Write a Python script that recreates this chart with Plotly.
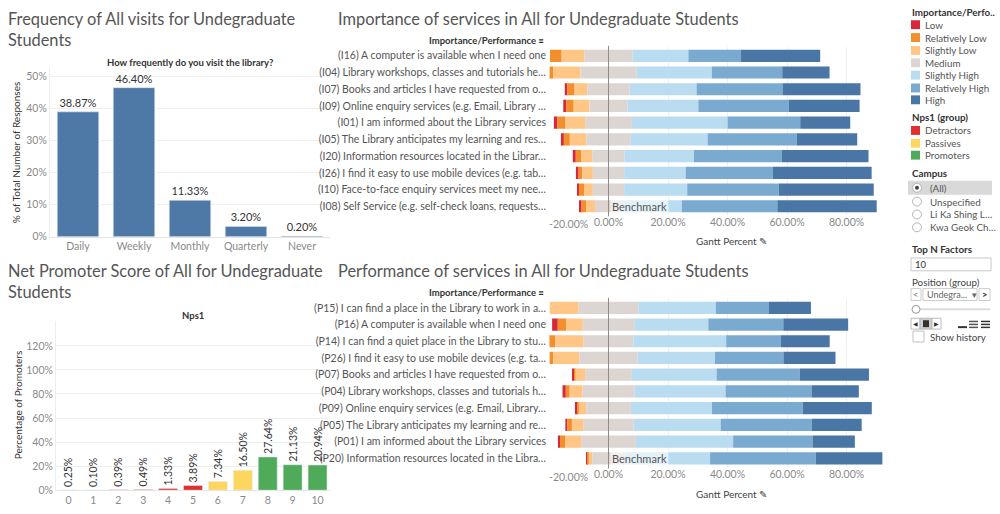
import plotly.graph_objects as go

W, H = 1000, 514
def px(x): return x / W
def py(y): return 1 - y / H

FONT = "Lato"
TITLE_C = "#555555"
TEXT_C = "#333333"
TICK_C = "#8a8a8a"
GRID_C = "#efefef"

# ---------------- data ----------------
freq_cats = ["Daily", "Weekly", "Monthly", "Quarterly", "Never"]
freq_vals = [38.87, 46.40, 11.33, 3.20, 0.20]

nps_scores = ["0", "1", "2", "3", "4", "5", "6", "7", "8", "9", "10"]
nps_vals = [0.25, 0.10, 0.39, 0.49, 1.33, 3.89, 7.34, 16.50, 27.64, 21.13, 20.94]
nps_groups = ["Detractors"] * 6 + ["Passives"] * 2 + ["Promoters"] * 3

levels = ["Low", "Relatively Low", "Slightly Low", "Medium",
          "Slightly High", "Relatively High", "High"]
level_colors = ["#d62839", "#f28e2b", "#ffc685", "#dcd5d2",
                "#b9dcf0", "#7aaad0", "#4a76a6"]
nps_group_names = ["Detractors", "Passives", "Promoters"]
nps_group_colors = ["#e0302f", "#fdd660", "#4fab5a"]

imp_labels = [
    "(I16) A computer is available when I need one",
    "(I04) Library workshops, classes and tutorials he…",
    "(I07) Books and articles I have requested from o…",
    "(I09) Online enquiry services (e.g. Email, Library …",
    "(I01) I am informed about the Library services",
    "(I05) The Library anticipates my learning and res…",
    "(I20) Information resources located in the Librar…",
    "(I26) I find it easy to use mobile devices (e.g. tab…",
    "(I10) Face-to-face enquiry services meet my nee…",
    "(I08) Self Service (e.g. self-check loans, requests…",
]
imp_low = [0.0, 0.0, 0.9, 1.0, 1.2, 1.0, 1.0, 0.9, 0.5, 0.6]
imp_rel_low = [3.9, 1.3, 2.4, 2.5, 2.7, 2.0, 1.9, 1.2, 1.9, 1.5]
imp_sl_low = [7.6, 9.1, 4.3, 5.3, 6.6, 5.5, 3.7, 3.6, 2.8, 3.0]
imp_medium = [16.3, 18.8, 14.2, 12.8, 15.7, 15.0, 10.8, 10.5, 10.5, 9.1]
imp_sl_high = [18.7, 25.3, 22.5, 23.8, 32.2, 25.8, 23.3, 20.7, 21.2, 20.1]
imp_rel_high = [17.7, 23.7, 28.9, 30.4, 24.4, 30.0, 29.6, 29.2, 30.8, 32.1]
imp_high = [26.6, 15.9, 26.2, 23.8, 16.8, 20.3, 29.1, 33.3, 31.9, 33.4]

perf_labels = [
    "(P15) I can find a place in the Library to work in a…",
    "(P16) A computer is available when I need one",
    "(P14) I can find a quiet place in the Library to stu…",
    "(P26) I find it easy to use mobile devices (e.g. ta…",
    "(P07) Books and articles I have requested from o…",
    "(P04) Library workshops, classes and tutorials h…",
    "(P09) Online enquiry services (e.g. Email, Library…",
    "(P05) The Library anticipates my learning and re…",
    "(P01) I am informed about the Library services",
    "(P20) Information resources located in the Libra…",
]
perf_low = [0.0, 1.9, 0.0, 0.0, 0.6, 1.1, 0.6, 0.7, 0.7, 0.6]
perf_rel_low = [0.0, 2.8, 1.9, 1.2, 0.4, 1.3, 0.4, 1.5, 1.7, 0.3]
perf_sl_low = [9.7, 5.6, 9.6, 8.8, 3.3, 4.3, 2.5, 3.8, 5.4, 1.2]
perf_medium = [20.1, 17.3, 16.7, 19.6, 15.7, 17.5, 15.0, 17.0, 18.4, 10.9]
perf_sl_high = [26.0, 24.9, 31.2, 26.0, 28.5, 30.6, 27.3, 29.2, 32.7, 28.7]
perf_rel_high = [17.9, 25.2, 18.4, 23.0, 27.9, 28.9, 30.5, 30.6, 26.7, 35.5]
perf_high = [14.1, 21.8, 16.4, 17.5, 23.3, 15.9, 23.2, 16.8, 14.2, 22.4]

gantt_ticks = [-20, 0, 20, 40, 60, 80]
campus_options = ["(All)", "Unspecified", "Li Ka Shing L…", "Kwa Geok Ch…"]

fig = go.Figure()

# ---------------- frequency chart ----------------
fig.add_trace(go.Bar(
    x=freq_cats, y=freq_vals, marker_color="#4e79a7", width=0.74,
    text=[f"{v:.2f}%" for v in freq_vals], textposition="outside",
    textfont=dict(size=11, color=TEXT_C, family=FONT), cliponaxis=False,
    constraintext="none",
    xaxis="x", yaxis="y", showlegend=False, hoverinfo="skip"))

# ---------------- NPS chart ----------------
gcol = dict(zip(nps_group_names, nps_group_colors))
fig.add_trace(go.Bar(
    x=nps_scores, y=nps_vals, marker_color=[gcol[g] for g in nps_groups], width=0.76,
    text=[f"{v:.2f}%" for v in nps_vals], textposition="outside", textangle=-90,
    textfont=dict(size=10.5, color=TEXT_C, family=FONT), cliponaxis=False,
    constraintext="none",
    xaxis="x2", yaxis="y2", showlegend=False, hoverinfo="skip"))

# ---------------- diverging charts ----------------
def add_diverging(labels, series, xa, ya):
    low, rl, sl, med = series[0], series[1], series[2], series[3]
    starts = [-(a + b + c + d / 2) for a, b, c, d in zip(low, rl, sl, med)]
    cum = list(starts)
    for lvl, col, vals in zip(levels, level_colors, series):
        fig.add_trace(go.Bar(
            y=labels, x=vals, base=cum, orientation="h", marker_color=col,
            marker_line_width=0, width=0.73, name=lvl, showlegend=False,
            xaxis=xa, yaxis=ya, hoverinfo="skip"))
        cum = [c + v for c, v in zip(cum, vals)]

add_diverging(imp_labels, [imp_low, imp_rel_low, imp_sl_low, imp_medium,
                           imp_sl_high, imp_rel_high, imp_high], "x3", "y3")
add_diverging(perf_labels, [perf_low, perf_rel_low, perf_sl_low, perf_medium,
                            perf_sl_high, perf_rel_high, perf_high], "x4", "y4")

tickfont = dict(family=FONT, size=10.5, color=TICK_C)
rowfont = dict(family=FONT, size=10.5, color="#555555")

fig.update_layout(
    width=W, height=H, margin=dict(l=0, r=0, t=0, b=0),
    paper_bgcolor="white", plot_bgcolor="white",
    barmode="overlay", bargap=0.26,
    font=dict(family=FONT, color=TEXT_C),
    xaxis=dict(domain=[px(50), px(330)], anchor="y", tickfont=tickfont,
               showgrid=False, showline=True, linecolor="#e4e4e4", ticks="",
               fixedrange=True),
    yaxis=dict(domain=[py(239.5), py(69)], anchor="x", range=[0, 52.46],
               tickvals=[0, 10, 20, 30, 40, 50],
               ticktext=["0%", "10%", "20%", "30%", "40%", "50%"],
               tickfont=tickfont, gridcolor=GRID_C, zeroline=False,
               showline=True, linecolor="#eeeeee", ticks=""),
    xaxis2=dict(domain=[px(56), px(330)], anchor="y2", tickfont=tickfont,
                showgrid=False, showline=True, linecolor="#e4e4e4", ticks=""),
    yaxis2=dict(domain=[py(496), py(325)], anchor="x2", range=[0, 140.5],
                tickvals=[0, 20, 40, 60, 80, 100, 120],
                ticktext=["0%", "20%", "40%", "60%", "80%", "100%", "120%"],
                tickfont=tickfont, gridcolor=GRID_C, zeroline=False,
                showline=True, linecolor="#eeeeee", ticks=""),
    xaxis3=dict(domain=[px(549), px(895)], anchor="y3", range=[-20, 96.3],
                tickvals=gantt_ticks[1:], ticktext=[f"{t:.2f}%" for t in gantt_ticks[1:]],
                tickfont=tickfont, gridcolor=GRID_C, zeroline=False, ticks=""),
    yaxis3=dict(domain=[py(217.3), py(48)], anchor="x3", autorange="reversed",
                tickfont=rowfont, showgrid=False, ticks="", ticklabelstandoff=2),
    xaxis4=dict(domain=[px(549), px(895)], anchor="y4", range=[-20, 96.3],
                tickvals=gantt_ticks[1:], ticktext=[f"{t:.2f}%" for t in gantt_ticks[1:]],
                tickfont=tickfont, gridcolor=GRID_C, zeroline=False, ticks=""),
    yaxis4=dict(domain=[py(472.3), py(303)], anchor="x4", autorange="reversed",
                tickfont=rowfont, showgrid=False, ticks="", ticklabelstandoff=2),
)

ann = []
shapes = []

def text(x, y, t, size=10.5, color=TEXT_C, xanchor="left", yanchor="middle",
         angle=0, bold=False, **kw):
    if bold:
        t = f"<b>{t}</b>"
    ann.append(dict(x=px(x), y=py(y), xref="paper", yref="paper", text=t,
                    showarrow=False, xanchor=xanchor, yanchor=yanchor,
                    textangle=angle, font=dict(family=FONT, size=size, color=color),
                    align="left", **kw))

# titles
text(6, 7, "Frequency of All visits for Undegraduate<br>Students", size=16.4,
     color=TITLE_C, yanchor="top")
text(6, 262, "Net Promoter Score of All for Undegraduate<br>Students", size=16.4,
     color=TITLE_C, yanchor="top")
text(336, 7, "Importance of services in All for Undegraduate Students", size=16.4,
     color=TITLE_C, yanchor="top")
text(336, 262, "Performance of services in All for Undegraduate Students", size=16.4,
     color=TITLE_C, yanchor="top")

text(190, 63, "How frequently do you visit the library?", size=9.5, bold=True,
     xanchor="center")
text(193, 319, "Nps1", size=9.5, bold=True, xanchor="center")
text(16, 155, "% of Total Number of Responses", size=10, angle=-90, xanchor="center")
text(18, 410, "Percentage of Promoters", size=10, angle=-90, xanchor="center")

for yy in (41, 296):
    text(546, yy, "Importance/Performance ≡", size=9.5, bold=True, xanchor="right")
for yy in (244, 500):
    text(731, yy, "Gantt Percent ✎", size=10, bold=False, xanchor="center", color="#444")
for yy in (227, 483):
    text(568, yy, f"{gantt_ticks[0]:.2f}%", size=10.5, color=TICK_C, xanchor="center")

# benchmark reference lines and labels
for xa, ya, labels in (("x3", "y3", imp_labels), ("x4", "y4", perf_labels)):
    shapes.append(dict(type="line", xref=xa, yref=f"{ya} domain", x0=0, x1=0,
                       y0=-0.01, y1=1.01, line=dict(color="#8c8c8c", width=1),
                       layer="above"))
    ann.append(dict(x=0, y=labels[-1], xref=xa, yref=ya, text="Benchmark",
                    showarrow=False, xanchor="left", yanchor="middle", xshift=1,
                    bgcolor="rgba(255,255,255,0.6)", borderpad=1,
                    font=dict(family=FONT, size=11, color="#555555")))

# ---------------- right panel ----------------
LEG = 9.8
text(910, 12, "Importance/Perfo..", size=LEG, bold=True)
leg_y = [25, 38, 51, 63.5, 76, 89, 101]
for yy, lvl, col in zip(leg_y, levels, level_colors):
    shapes.append(dict(type="rect", xref="paper", yref="paper", x0=px(911), x1=px(920),
                       y0=py(yy + 4.5), y1=py(yy - 4.5), fillcolor=col, line_width=0))
    text(923, yy, lvl, size=LEG, color="#555555")

text(910, 118, "Nps1 (group)", size=LEG, bold=True)
for yy, g, col in zip([132, 145, 157], nps_group_names, nps_group_colors):
    shapes.append(dict(type="rect", xref="paper", yref="paper", x0=px(911), x1=px(920),
                       y0=py(yy + 4.5), y1=py(yy - 4.5), fillcolor=col, line_width=0))
    text(923, yy, g, size=LEG, color="#555555")

text(910, 175, "Campus", size=LEG, bold=True)
shapes.append(dict(type="rect", xref="paper", yref="paper", x0=px(908), x1=px(992),
                   y0=py(197), y1=py(183), fillcolor="#d9d9d9", line_width=0))
for i, (yy, opt) in enumerate(zip([190, 204, 217, 230], campus_options)):
    shapes.append(dict(type="circle", xref="paper", yref="paper",
                       x0=px(912.5), x1=px(921.5), y0=py(yy + 4.5), y1=py(yy - 4.5),
                       fillcolor="white", line=dict(color="#b5b5b5", width=1)))
    if i == 0:
        shapes.append(dict(type="circle", xref="paper", yref="paper",
                           x0=px(915), x1=px(919), y0=py(yy + 2), y1=py(yy - 2),
                           fillcolor="#444444", line_width=0))
    text(928, yy, opt, size=LEG, color="#555555")

text(910, 252, "Top N Factors", size=LEG, bold=True)
shapes.append(dict(type="rect", xref="paper", yref="paper", x0=px(911), x1=px(991),
                   y0=py(274), y1=py(261), fillcolor="white",
                   line=dict(color="#c8c8c8", width=1)))
text(913, 267.5, "10", size=9.5, color="#333333")

text(910, 285, "Position (group)", size=LEG, color="#444444")
for x0, x1 in ((911, 921), (923, 977), (979, 990)):
    shapes.append(dict(type="rect", xref="paper", yref="paper", x0=px(x0), x1=px(x1),
                       y0=py(304), y1=py(292), fillcolor="white",
                       line=dict(color="#cccccc", width=1)))
text(916, 298, "<", size=9.5, color="#777777", xanchor="center")
text(925, 298, "Undegra...  ▾", size=9, color="#666666")
text(985, 298, ">", size=9.5, color="#333333", xanchor="center", bold=True)
shapes.append(dict(type="line", xref="paper", yref="paper", x0=px(914), x1=px(990),
                   y0=py(313), y1=py(313), line=dict(color="#dddddd", width=2)))
shapes.append(dict(type="circle", xref="paper", yref="paper", x0=px(912), x1=px(920),
                   y0=py(317), y1=py(309), fillcolor="white",
                   line=dict(color="#999999", width=1)))
for x0, x1, fc in ((911, 920, "white"), (920, 932, "#cfcfcf"), (932, 941, "white")):
    shapes.append(dict(type="rect", xref="paper", yref="paper", x0=px(x0), x1=px(x1),
                       y0=py(333), y1=py(322), fillcolor=fc,
                       line=dict(color="#bbbbbb", width=1)))
text(915.5, 327.5, "◀", size=6, color="#333333", xanchor="center")
shapes.append(dict(type="rect", xref="paper", yref="paper", x0=px(923), x1=px(929),
                   y0=py(331), y1=py(324), fillcolor="#333333", line_width=0))
text(936.5, 327.5, "▶", size=6, color="#333333", xanchor="center")
shapes.append(dict(type="rect", xref="paper", yref="paper", x0=px(958), x1=px(967),
                   y0=py(332), y1=py(330), fillcolor="#333333", line_width=0))
for yy in (326, 329, 332):
    shapes.append(dict(type="rect", xref="paper", yref="paper", x0=px(969), x1=px(978),
                       y0=py(yy), y1=py(yy - 1.5), fillcolor="#555555", line_width=0))
    shapes.append(dict(type="rect", xref="paper", yref="paper", x0=px(981), x1=px(990),
                       y0=py(yy), y1=py(yy - 1.5), fillcolor="#333333", line_width=0))
shapes.append(dict(type="rect", xref="paper", yref="paper", x0=px(913), x1=px(924),
                   y0=py(346), y1=py(335), fillcolor="white",
                   line=dict(color="#c0c0c0", width=1)))
text(928, 340.5, "Show history", size=LEG, color="#444444")

fig.update_layout(annotations=ann, shapes=shapes)
fig.write_html(
    "out.html",
    config={"displayModeBar": False},
    post_script="document.body.style.margin='0';document.body.style.overflow='hidden';",
)
